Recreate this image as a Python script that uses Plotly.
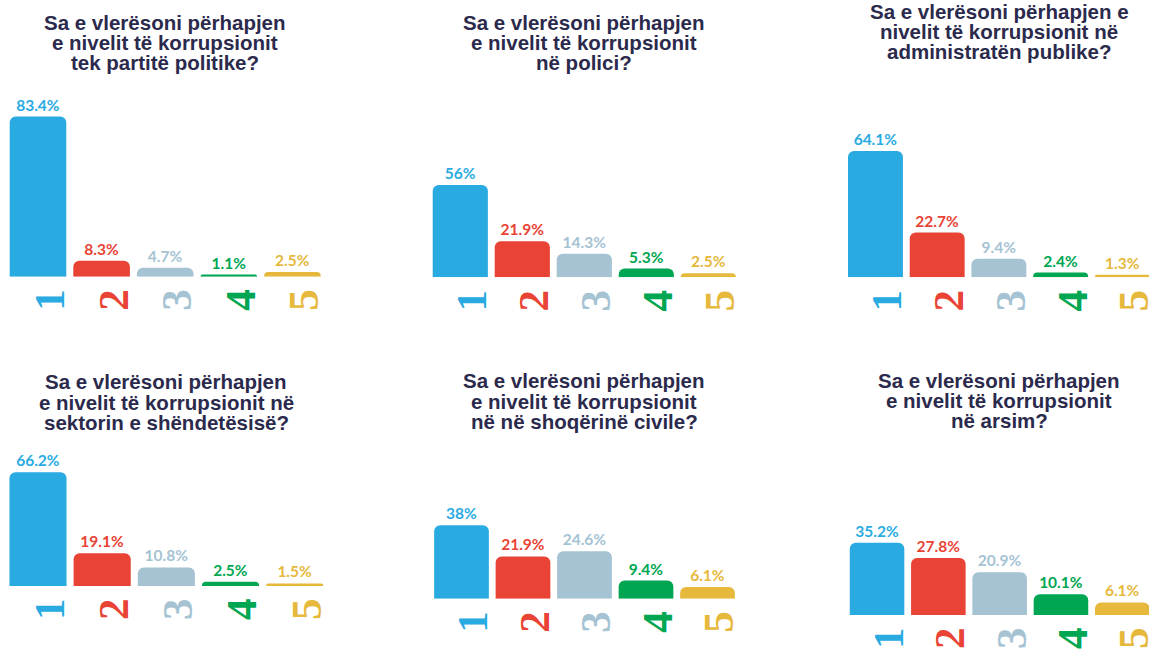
import plotly.graph_objects as go

W, H = 1149, 650

categories = ["1", "2", "3", "4", "5"]
bar_colors = ["#29abe2", "#e94336", "#a5c3d3", "#00a651", "#e6b83c"]

title_party = ["Sa e vlerësoni përhapjen", "e nivelit të korrupsionit", "tek partitë politike?"]
title_police = ["Sa e vlerësoni përhapjen", "e nivelit të korrupsionit", "në polici?"]
title_admin = ["Sa e vlerësoni përhapjen e", "nivelit të korrupsionit në", "administratën publike?"]
title_health = ["Sa e vlerësoni përhapjen", "e nivelit të korrupsionit në", "sektorin e shëndetësisë?"]
title_civil = ["Sa e vlerësoni përhapjen", "e nivelit të korrupsionit", "në në shoqërinë civile?"]
title_edu = ["Sa e vlerësoni përhapjen", "e nivelit të korrupsionit", "në arsim?"]

values_party = [83.4, 8.3, 4.7, 1.1, 2.5]
values_police = [56, 21.9, 14.3, 5.3, 2.5]
values_admin = [64.1, 22.7, 9.4, 2.4, 1.3]
values_health = [66.2, 19.1, 10.8, 2.5, 1.5]
values_civil = [38, 21.9, 24.6, 9.4, 6.1]
values_edu = [35.2, 27.8, 20.9, 10.1, 6.1]

panels = [
    (title_party, values_party),
    (title_police, values_police),
    (title_admin, values_admin),
    (title_health, values_health),
    (title_civil, values_civil),
    (title_edu, values_edu),
]

# layout (pixel) settings per panel: x-left, x-right of category range, baseline y, px per %, title center x, first title baseline
layout_px = [
    dict(x0=6.2, x1=324.2, base=276.7, scale=1.92, tx=165, ty=29.5),
    dict(x0=429.3, x1=739.3, base=277.3, scale=1.65, tx=584, ty=29.5),
    dict(x0=844.6, x1=1153.2, base=277.3, scale=1.97, tx=999, ty=18.5),
    dict(x0=5.9, x1=326.8, base=586.0, scale=1.72, tx=166, ty=389),
    dict(x0=430.75, x1=738.25, base=598.7, scale=1.93, tx=584, ty=388),
    dict(x0=846.4, x1=1152.9, base=615.0, scale=2.05, tx=999, ty=387.5),
]

TITLE_FS = 20.5
LINE_GAP = 20.3
PANEL_H = 200

fig = go.Figure()
annotations = []
tick_text = [f'<span style="color:{c}"><b>{cat}</b></span>' for cat, c in zip(categories, bar_colors)]

for i, ((title_lines, vals), lp) in enumerate(zip(panels, layout_px)):
    n = i + 1
    xa = "x" if n == 1 else f"x{n}"
    ya = "y" if n == 1 else f"y{n}"
    fig.add_trace(go.Bar(
        x=categories, y=vals, xaxis=xa, yaxis=ya,
        marker=dict(color=bar_colors, cornerradius=6, line=dict(width=0)),
        text=[f"{v:g}%" for v in vals],
        textposition="outside",
        textfont=dict(family="Lato", size=15.5, color=bar_colors, weight="bold"),
        constraintext="none",
        cliponaxis=False,
        hoverinfo="skip",
    ))
    pitch = (lp["x1"] - lp["x0"]) / 5.0
    x_right = min(lp["x1"], W)
    r_end = 4.5 - (lp["x1"] - x_right) / pitch
    xdom = [lp["x0"] / W, x_right / W]
    ydom = [1 - lp["base"] / H, 1 - (lp["base"] - PANEL_H) / H]
    xkey = "xaxis" if n == 1 else f"xaxis{n}"
    ykey = "yaxis" if n == 1 else f"yaxis{n}"
    fig.update_layout(**{
        xkey: dict(domain=xdom, anchor=ya, type="category", range=[-0.5, r_end],
                   automargin=False,
                   showgrid=False, zeroline=False, showline=False, ticks="",
                   tickmode="array", tickvals=categories, ticktext=tick_text,
                   tickangle=-90,
                   tickfont=dict(family="Liberation Sans Narrow", size=43, weight="bold"),
                   ticklabelstandoff=3, ticklabelshift=12, fixedrange=True),
        ykey: dict(domain=ydom, anchor=xa, range=[0, PANEL_H / lp["scale"]],
                   automargin=False,
                   showgrid=False, zeroline=False, showline=False,
                   showticklabels=False, ticks="", fixedrange=True),
    })
    for j, line in enumerate(title_lines):
        baseline = lp["ty"] + j * LINE_GAP
        annotations.append(dict(
            text=f"<b>{line}</b>", xref="paper", yref="paper",
            x=lp["tx"] / W, y=1 - (baseline - 0.35 * TITLE_FS) / H,
            xanchor="center", yanchor="middle", showarrow=False,
            font=dict(family="Liberation Sans", size=TITLE_FS, color="#2b2a4c"),
        ))

fig.update_layout(
    width=W, height=H,
    margin=dict(l=0, r=0, t=0, b=0, autoexpand=False),
    paper_bgcolor="white", plot_bgcolor="white",
    showlegend=False, bargap=0.11,
    annotations=annotations,
)

fig.write_html(
    "out.html",
    config={"displayModeBar": False},
    post_script="document.body.style.margin='0';document.body.style.overflow='hidden';",
)
